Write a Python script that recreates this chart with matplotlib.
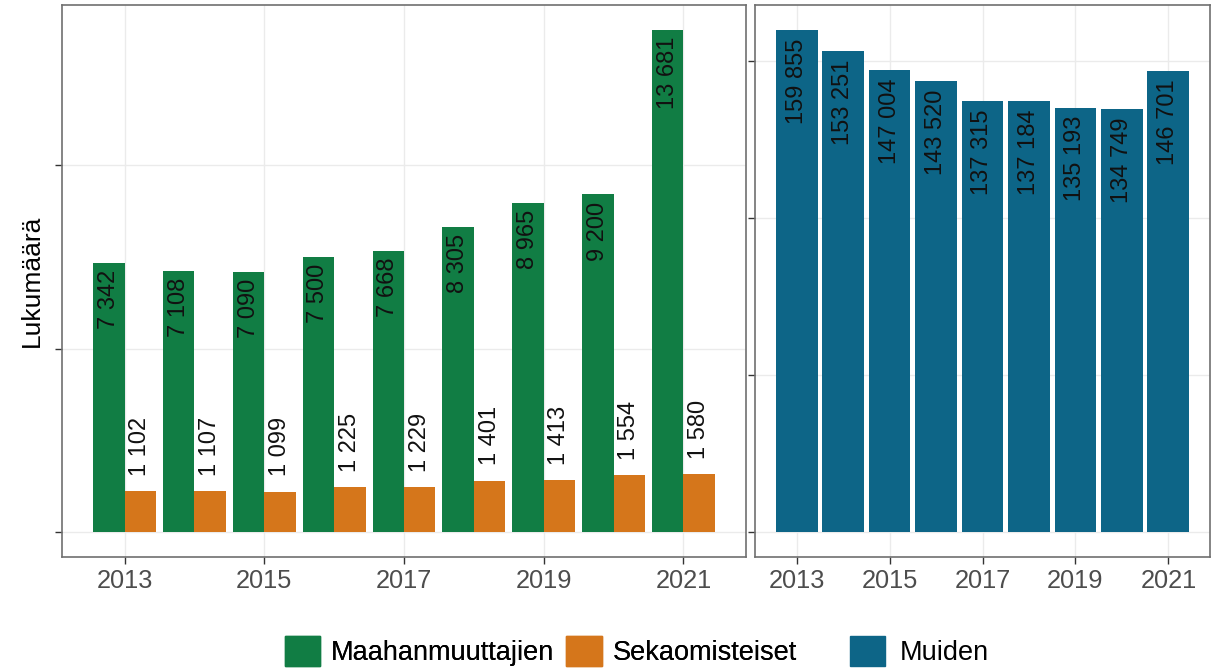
import matplotlib

matplotlib.use("Agg")
import matplotlib.pyplot as plt
from matplotlib.patches import Patch

plt.rcParams["font.family"] = ["Liberation Sans", "DejaVu Sans"]

years = [2013, 2014, 2015, 2016, 2017, 2018, 2019, 2020, 2021]
maahanmuuttajien = [7342, 7108, 7090, 7500, 7668, 8305, 8965, 9200, 13681]
sekaomisteiset = [1102, 1107, 1099, 1225, 1229, 1401, 1413, 1554, 1580]
muiden = [159855, 153251, 147004, 143520, 137315, 137184, 135193, 134749, 146701]
year_ticks = [2013, 2015, 2017, 2019, 2021]
left_yticks = [0, 5000, 10000]
right_yticks = [0, 50000, 100000, 150000]

GREEN = "#117D44"
ORANGE = "#D5761B"
BLUE = "#0D6587"
GRID = "#EBEBEB"
BORDER = "#707070"
TICK_COLOR = "#4D4D4D"
LABEL_SIZE = 17
TICK_SIZE = 18.3


def fmt(v):
    return f"{v:,}".replace(",", " ")


def style_axis(ax, yticks, ylim):
    ax.set_xlim(2012.105, 2021.895)
    ax.set_ylim(*ylim)
    ax.set_xticks(year_ticks)
    ax.set_xticklabels([str(y) for y in year_ticks])
    ax.set_yticks(yticks)
    ax.set_yticklabels([])
    ax.set_axisbelow(True)
    ax.grid(True, color=GRID, linewidth=1.0)
    for sp in ax.spines.values():
        sp.set_color(BORDER)
        sp.set_linewidth(1.2)
    ax.tick_params(axis="both", length=5, width=1.0, color="#333333",
                   labelsize=TICK_SIZE, labelcolor=TICK_COLOR, pad=4)


fig = plt.figure(figsize=(12.13, 6.69), dpi=100)
ax1 = fig.add_axes([62 / 1213, 1 - 557 / 669, 684 / 1213, 552 / 669])
ax2 = fig.add_axes([755 / 1213, 1 - 557 / 669, 455 / 1213, 552 / 669])

w = 0.45
xg = [y - w / 2 for y in years]
xo = [y + w / 2 for y in years]
ax1.bar(xg, maahanmuuttajien, width=w, color=GREEN)
ax1.bar(xo, sekaomisteiset, width=w, color=ORANGE)
for x, v in zip(xg, maahanmuuttajien):
    ax1.annotate(fmt(v), (x, v), xytext=(0, -5), textcoords="offset points",
                 rotation=90, ha="center", va="top", fontsize=LABEL_SIZE, color="#111111")
for x, v in zip(xo, sekaomisteiset):
    ax1.annotate(fmt(v), (x, v), xytext=(0, 11), textcoords="offset points",
                 rotation=90, ha="center", va="bottom", fontsize=LABEL_SIZE, color="#111111")
style_axis(ax1, left_yticks, (-684, 14365))
ax1.set_ylabel("Lukumäärä", fontsize=19, labelpad=4)

ax2.bar(years, muiden, width=0.9, color=BLUE)
for x, v in zip(years, muiden):
    ax2.annotate(fmt(v), (x, v), xytext=(0, -6), textcoords="offset points",
                 rotation=90, ha="center", va="top", fontsize=LABEL_SIZE, color="#111111")
style_axis(ax2, right_yticks, (-7993, 167848))

leg1 = fig.legend(
    handles=[Patch(color=GREEN, label="Maahanmuuttajien"), Patch(color=ORANGE, label="Sekaomisteiset")],
    loc="lower left", bbox_to_anchor=(285 / 1213, 0.004), ncol=2, frameon=False,
    fontsize=19.5, handlelength=1.3, handleheight=1.35, handletextpad=0.4,
    columnspacing=0.45, borderpad=0, borderaxespad=0,
)
fig.add_artist(leg1)
fig.legend(
    handles=[Patch(color=BLUE, label="Muiden")],
    loc="lower left", bbox_to_anchor=(850 / 1213, 0.004), frameon=False,
    fontsize=19.5, handlelength=1.3, handleheight=1.35, handletextpad=0.55,
    borderpad=0, borderaxespad=0,
)

fig.savefig("out.png", dpi=100)
